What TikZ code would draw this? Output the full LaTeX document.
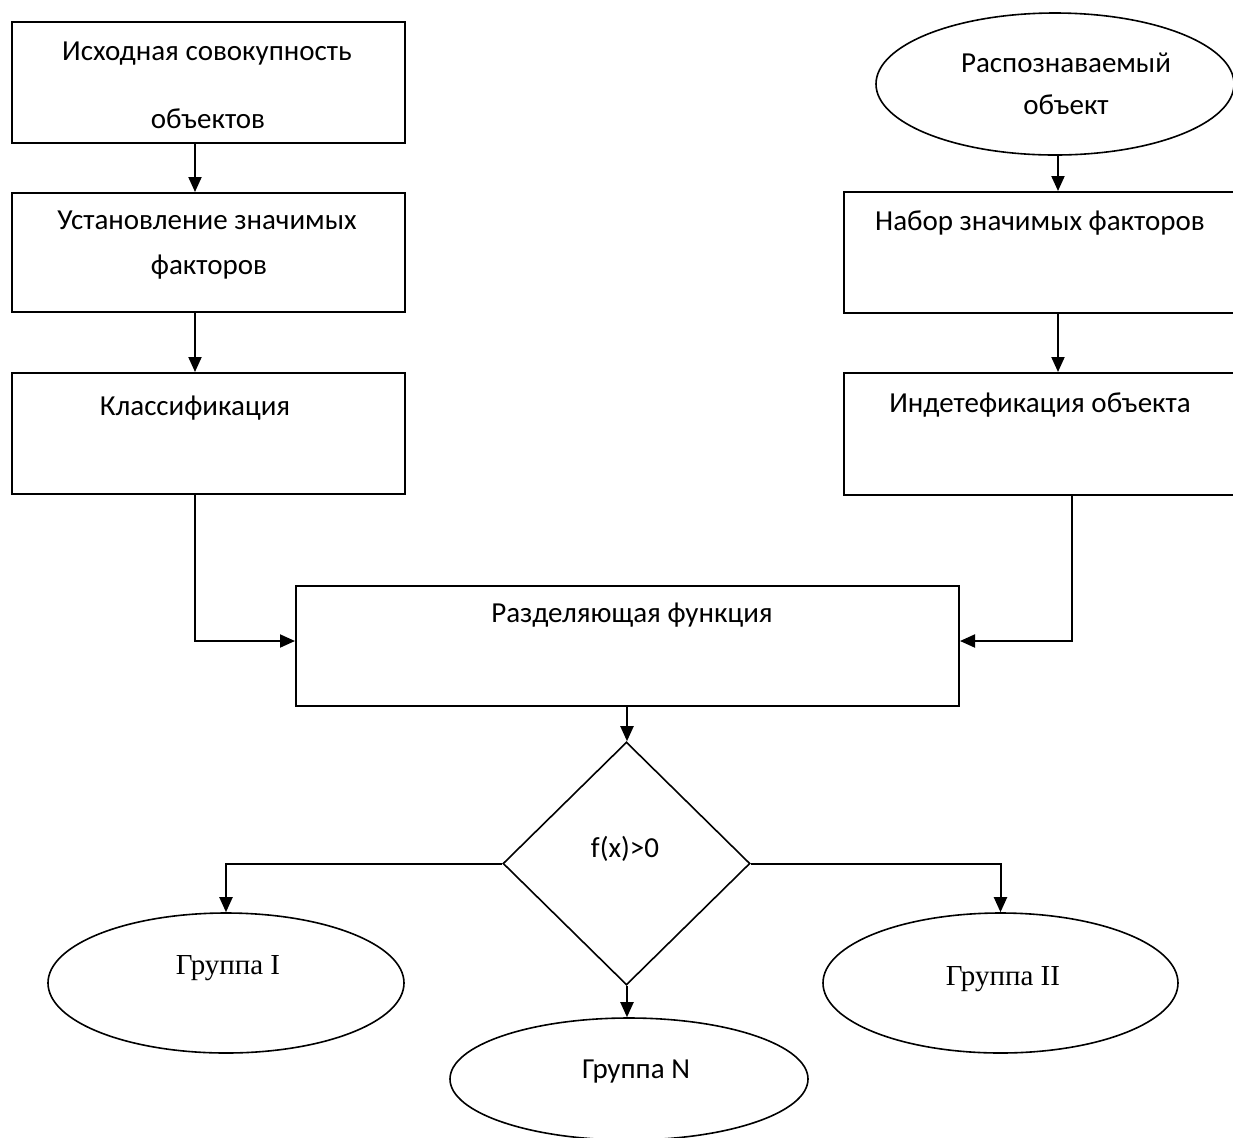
\documentclass[tikz,border=0pt]{standalone}
\usepackage{fontspec}
\setmainfont{Carlito}
\newfontfamily\grpfont{Liberation Serif}
\usetikzlibrary{shapes.geometric,arrows.meta}
\begin{document}
\begin{tikzpicture}[x=0.5pt,y=-0.5pt,
  box/.style={draw,line width=1pt,rectangle,inner sep=0pt},
  oval/.style={draw,line width=0.8pt,ellipse,inner sep=0pt},
  txt/.style={anchor=base,inner sep=0pt,font=\fontsize{14.5pt}{16pt}\selectfont},
  grp/.style={anchor=base,inner sep=0pt,font=\grpfont\fontsize{14.5pt}{16pt}\selectfont},
  link/.style={line width=1pt,-{Triangle[length=7.5pt,width=6.5pt]}},
  plain/.style={line width=1pt}]
\useasboundingbox (0,0) rectangle (1233,1137);
\clip (0,0) rectangle (1233,1137);

% left column
\node[box,minimum width=196.5pt,minimum height=60.5pt] (b1) at (208.5,82.5) {};
\node[box,minimum width=196.5pt,minimum height=59.5pt] (b2) at (208.5,252.5) {};
\node[box,minimum width=196.5pt,minimum height=60.5pt] (b3) at (208.5,433.5) {};
\node[txt] (t1a) at (207,60) {Исходная совокупность};
\node[txt] (t1b) at (208,128) {объектов};
\node[txt] (t2a) at (207,229) {Установление значимых};
\node[txt] (t2b) at (209,274) {факторов};
\node[txt] (t3) at (195,415) {Классификация};

% right column
\node[oval,minimum width=179pt,minimum height=71pt] (e0) at (1055,84) {};
\node[box,minimum width=200pt,minimum height=60.5pt] (b5) at (1044,252.5) {};
\node[box,minimum width=200pt,minimum height=61pt] (b6) at (1044,434) {};
\node[txt] (t0a) at (1066,72) {Распознаваемый};
\node[txt] (t0b) at (1066,114) {объект};
\node[txt] (t5) at (1040,230) {Набор значимых факторов};
\node[txt] (t6) at (1040,412) {Индетефикация объекта};

% centre
\node[box,minimum width=331.5pt,minimum height=60pt] (b4) at (627.5,646) {};
\node[txt] (t4) at (632,622) {Разделяющая функция};
\node[draw,line width=0.8pt,diamond,inner sep=0pt,minimum width=123.5pt,minimum height=121.5pt] (d) at (626.5,863.5) {};
\node[txt] (td) at (625,857) {f(x)>0};

% result groups
\node[oval,minimum width=178pt,minimum height=70pt] (g1) at (226,983) {};
\node[oval,minimum width=177.5pt,minimum height=70pt] (g2) at (1000.5,983) {};
\node[oval,minimum width=179pt,minimum height=61pt] (gn) at (629,1079) {};
\node[grp] (tg1) at (228,974) {Группа I};
\node[grp] (tg2) at (1003,985) {Группа II};
\node[txt] (tgn) at (636,1078) {Группа N};

% guide lines for the connector positions
\coordinate (xl) at (195,0);
\coordinate (xr) at (1058,0);
\coordinate (xr2) at (1072,0);
\coordinate (ym) at (0,641);
\coordinate (xc) at (627,0);

% connectors
\draw[link] (b1.south -| xl) -- (b2.north -| xl);
\draw[link] (b2.south -| xl) -- (b3.north -| xl);
\draw[link] (e0.south -| xr) -- (b5.north -| xr);
\draw[link] (b5.south -| xr) -- (b6.north -| xr);
\draw[link] (b3.south -| xl) |- (b4.west |- ym);
\draw[link] (b6.south -| xr2) |- (b4.east |- ym);
\draw[link] (b4.south -| xc) -- (d.north -| xc);
\draw[link] (d.west) -| (g1.north);
\draw[link] (d.east) -| (g2.north);
\draw[link] (d.south -| xc) -- (gn.north -| xc);
\end{tikzpicture}
\end{document}
